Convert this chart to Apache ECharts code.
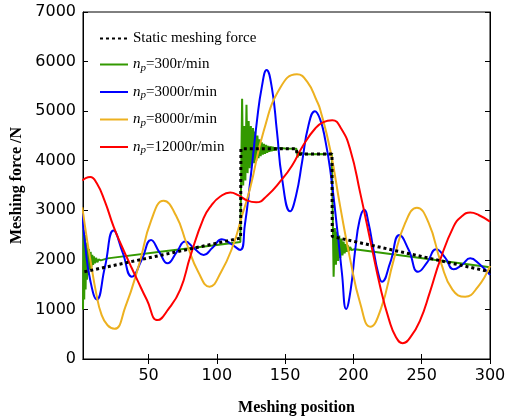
<!DOCTYPE html>
<html>
<head>
<meta charset="utf-8">
<script src="https://cdn.jsdelivr.net/npm/echarts@6/dist/echarts.min.js"></script>
<style>
  html, body { margin: 0; padding: 0; background: #fff; }
  #chart { width: 506px; height: 416px; }
</style>
</head>
<body>
<div id="chart"></div>
<script>
// values: [meshing position, force N]
var staticForce = [[3, 1760], [117.4, 2440], [117.6, 4240], [158.3, 4240], [158.6, 4135], [184.3, 4135], [184.5, 2470], [300, 1760]]

var np300 = [
  [2, 1000], [2.4, 2600], [2.9, 1200], [3.4, 2500], [3.9, 1400], [4.4, 2350], [4.9, 1600], [5.4, 2250],
  [5.9, 1700], [6.4, 2220], [7, 1800], [7.6, 2160], [8.2, 1860], [8.8, 2100], [9.4, 1900], [10, 2070],
  [10.8, 1930], [11.6, 2040], [12.5, 1950], [13.5, 2010], [15, 1990], [20, 2030], [60, 2170], [100, 2300],
  [117.2, 2360], [118.5, 5250], [119.3, 3500], [120.1, 4700], [120.9, 3600], [121.7, 5130], [122.5, 3750],
  [123.3, 4800], [124.1, 3850], [124.9, 4700], [125.7, 3900], [126.5, 4660], [127.3, 3950], [128.1, 4590],
  [128.9, 4000], [129.7, 4510], [130.5, 4050], [131.3, 4430], [132.1, 4090], [132.9, 4370], [133.7, 4120],
  [134.5, 4340], [135.3, 4140], [136.1, 4320], [136.9, 4160], [137.7, 4300], [138.5, 4180], [139.3, 4290],
  [140.1, 4190], [140.9, 4280], [141.7, 4200], [142.5, 4270], [143.3, 4210], [144.1, 4260], [145, 4230],
  [150, 4245], [158.3, 4240], [159.2, 4070], [160, 4180], [160.8, 4100], [161.6, 4160], [162.4, 4120],
  [163.5, 4145], [165, 4130], [184.2, 4135], [185.5, 1660], [186.4, 2640], [187.2, 1900], [188, 2570],
  [188.8, 1980], [189.6, 2490], [190.4, 2040], [191.2, 2430], [192, 2090], [192.8, 2370], [193.6, 2130],
  [194.4, 2320], [195.2, 2160], [196, 2290], [196.8, 2180], [197.6, 2260], [198.5, 2200], [199.5, 2240],
  [201, 2215], [300, 1850]
]

var np3000 = [
  [1.5, 2950], [3.7, 2270], [7.3, 1590], [12.1, 1200], [18, 1850], [24.4, 2590], [31, 2150], [37.8, 1660],
  [45, 2000], [51.8, 2400], [58, 2150], [63.9, 1930], [70.5, 2150], [76.9, 2370], [83.5, 2230], [90.3, 2100],
  [97, 2250], [103.7, 2415], [110.5, 2320], [117.1, 2200], [120.5, 2700], [124.4, 3580], [129.3, 4790],
  [133, 5500], [136.4, 5830], [140.3, 5470], [144, 4590], [147.7, 3650], [153.7, 2980], [158, 3300],
  [162.5, 3990], [167, 4700], [171.8, 5000], [175.7, 4830], [179.5, 4400], [183, 3820], [187.9, 2670],
  [191.6, 1730], [194.7, 1010], [198, 1400], [201.3, 2200], [204.5, 2800], [207.9, 3010], [211, 2750],
  [214.7, 2200], [218, 1750], [220.9, 1560], [227, 1950], [233.7, 2500], [240.5, 2200], [247.4, 1760],
  [254, 1950], [260.6, 2215], [267, 2050], [273.4, 1810], [279.5, 1900], [285.5, 2030], [292, 1920], [300, 1695]
]

var np8000 = [
  [1.5, 3060], [5, 2400], [8, 1900], [11.5, 1350], [15.5, 900], [20, 680], [25.1, 610], [33, 1050],
  [43, 1900], [52, 2800], [61, 3190], [70, 2900], [78, 2320], [86.5, 1750], [94.7, 1460], [103, 1750],
  [112, 2300], [118, 2850], [124.4, 3450], [134.2, 4590], [146.4, 5470], [158.6, 5745], [166, 5600],
  [173.3, 5200], [175.7, 5030], [183, 4220], [190.3, 3080], [197.7, 2000], [205, 1120], [212.3, 650],
  [220, 1000], [229.5, 2000], [238, 2750], [246.5, 3050], [255, 2750], [264, 1950], [272.5, 1400],
  [281.8, 1256], [291, 1450], [300, 1880]
]

var np12000 = [
  [1.5, 3600], [4, 3650], [7.3, 3670], [12, 3550], [18, 3180], [24.4, 2670], [30, 2300], [36.6, 1900],
  [42, 1580], [48.8, 1190], [56.6, 785], [64.4, 1000], [73.2, 1400], [80.5, 2064], [90.3, 2841], [96, 3100],
  [102.5, 3278], [109.8, 3360], [116, 3300], [122, 3200], [128.8, 3160], [137, 3300], [146.4, 3581],
  [155, 3900], [163.5, 4323], [172, 4650], [178, 4780], [184.5, 4815], [191, 4650], [197.7, 4222],
  [205, 3346], [212.3, 2402], [219.6, 1458], [226, 800], [231, 450], [236.1, 320], [242, 450], [248.9, 785],
  [256, 1350], [263.5, 1998], [273.3, 2671], [279, 2870], [285.5, 2954], [292, 2900], [300, 2772]
]

var xTicks = [50, 100, 150, 200, 250, 300]
var legendNames = ['Static meshing force', 'np=300r/min', 'np=3000r/min', 'np=8000r/min', 'np=12000r/min']

var chart = echarts.init(document.getElementById('chart'))

var serif = 'Liberation Serif'
var sans = 'DejaVu Sans'

chart.setOption({
  animation: false,
  grid: {
    left: 83, right: 16, top: 12, bottom: 57,
    outerBoundsMode: 'none',
    show: true, borderColor: '#000', borderWidth: 1
  },
  legend: {
    orient: 'vertical',
    left: 94,
    top: 26,
    itemWidth: 28,
    itemHeight: 10,
    itemGap: 11,
    data: legendNames,
    itemStyle: { opacity: 0, borderWidth: 0 },
    textStyle: {
      fontFamily: serif,
      fontSize: 15,
      color: '#000',
      rich: {
        n: { fontFamily: serif, fontSize: 15, fontStyle: 'italic', lineHeight: 18 },
        p: { fontFamily: serif, fontSize: 11, fontStyle: 'italic', lineHeight: 10, verticalAlign: 'bottom' },
        t: { fontFamily: serif, fontSize: 15, lineHeight: 18 }
      }
    },
    formatter: function (name) {
      if (name.indexOf('np') === 0) {
        return '{n|n}{p|p}{t|' + name.slice(2) + '}'
      }
      return name
    }
  },
  xAxis: [
    {
      type: 'value', min: 2, max: 300, position: 'bottom',
      name: 'Meshing position', nameLocation: 'middle', nameGap: 41,
      nameTextStyle: { fontFamily: serif, fontSize: 16, fontWeight: 'bold', color: '#000', padding: [0, 0, 0, 20] },
      axisLine: { lineStyle: { color: '#000', width: 1 } },
      axisTick: { inside: true, length: 5, customValues: xTicks, lineStyle: { color: '#000' } },
      axisLabel: { customValues: xTicks, fontFamily: sans, fontSize: 16, color: '#000', margin: 9 },
      splitLine: { show: false }
    },
    {
      type: 'value', min: 2, max: 300, position: 'top',
      axisLine: { lineStyle: { color: '#000', width: 1 } },
      axisTick: { inside: true, length: 5, customValues: xTicks, lineStyle: { color: '#000' } },
      axisLabel: { show: false },
      splitLine: { show: false }
    }
  ],
  yAxis: [
    {
      type: 'value', min: 0, max: 7000, interval: 1000, position: 'left',
      name: 'Meshing force /N', nameLocation: 'middle', nameGap: 52,
      nameTextStyle: { fontFamily: serif, fontSize: 16, fontWeight: 'bold', color: '#000' },
      axisLine: { show: true, lineStyle: { color: '#000', width: 1 } },
      axisTick: { show: true, inside: true, length: 5, lineStyle: { color: '#000' } },
      axisLabel: {
        fontFamily: sans, fontSize: 16, color: '#000', margin: 7,
        formatter: function (v) { return String(v) }
      },
      splitLine: { show: false }
    },
    {
      type: 'value', min: 0, max: 7000, interval: 1000, position: 'right',
      axisLine: { show: true, lineStyle: { color: '#000', width: 1 } },
      axisTick: { show: true, inside: true, length: 5, lineStyle: { color: '#000' } },
      axisLabel: { show: false },
      splitLine: { show: false }
    }
  ],
  series: [
    {
      name: 'np=300r/min', type: 'line', data: np300, symbol: 'none', z: 2,
      lineStyle: { color: '#339900', width: 2 }, itemStyle: { color: '#339900' }
    },
    {
      name: 'np=3000r/min', type: 'line', data: np3000, symbol: 'none', smooth: 0.5, z: 3,
      lineStyle: { color: '#0000ff', width: 2 }, itemStyle: { color: '#0000ff' }
    },
    {
      name: 'np=8000r/min', type: 'line', data: np8000, symbol: 'none', smooth: 0.5, z: 4,
      lineStyle: { color: '#edb120', width: 2 }, itemStyle: { color: '#edb120' }
    },
    {
      name: 'np=12000r/min', type: 'line', data: np12000, symbol: 'none', smooth: 0.5, z: 5,
      lineStyle: { color: '#ff0000', width: 2 }, itemStyle: { color: '#ff0000' }
    },
    {
      name: 'Static meshing force', type: 'line', data: staticForce, symbol: 'none', z: 6,
      lineStyle: { color: '#000', width: 3, type: [3, 3] }, itemStyle: { color: '#000' }
    }
  ]
})
</script>
</body>
</html>
